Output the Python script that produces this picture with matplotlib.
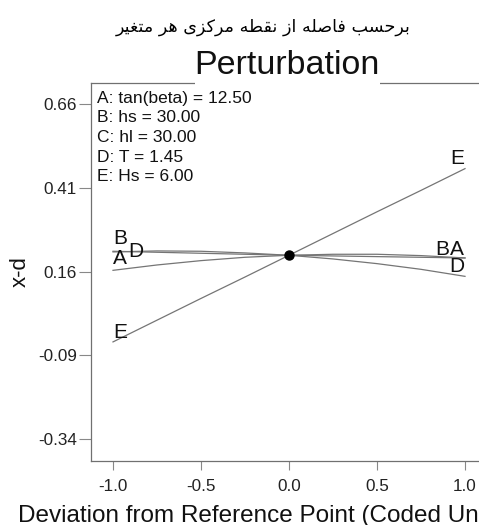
import numpy as np
import matplotlib
matplotlib.use('Agg')
import matplotlib.pyplot as plt
from matplotlib.patches import Rectangle

W, H = 479, 525

# deviation from reference point (coded units)
dev = [-1.0, -0.75, -0.5, -0.25, 0.0, 0.25, 0.5, 0.75, 1.0]
curve_A = [0.164, 0.180, 0.193, 0.203, 0.209, 0.212, 0.212, 0.208, 0.201]
curve_B = [0.221, 0.218, 0.215, 0.212, 0.209, 0.207, 0.205, 0.203, 0.201]
curve_D = [0.219, 0.222, 0.221, 0.216, 0.209, 0.198, 0.184, 0.167, 0.146]
curve_E = [-0.050, 0.015, 0.080, 0.144, 0.209, 0.274, 0.339, 0.403, 0.468]
center = (0.0, 0.209)

factor_info = ['A: tan(beta) = 12.50', 'B: hs = 30.00', 'C: hl = 30.00',
               'D: T = 1.45', 'E: Hs = 6.00']
yticks = [-0.34, -0.09, 0.16, 0.41, 0.66]
xticks = [-1.0, -0.5, 0.0, 0.5, 1.0]

persian_title = 'برحسب فاصله از نقطه مرکزی هر متغیر'

# matplotlib has no arabic shaping, so pick presentation forms by hand
forms = {
    'ا': ('\uFE8D', '\uFE8E', None, None),
    'ب': ('\uFE8F', '\uFE90', '\uFE91', '\uFE92'),
    'ت': ('\uFE95', '\uFE96', '\uFE97', '\uFE98'),
    'ح': ('\uFEA1', '\uFEA2', '\uFEA3', '\uFEA4'),
    'ر': ('\uFEAD', '\uFEAE', None, None),
    'ز': ('\uFEAF', '\uFEB0', None, None),
    'س': ('\uFEB1', '\uFEB2', '\uFEB3', '\uFEB4'),
    'ص': ('\uFEB9', '\uFEBA', '\uFEBB', '\uFEBC'),
    'ط': ('\uFEC1', '\uFEC2', '\uFEC3', '\uFEC4'),
    'غ': ('\uFECD', '\uFECE', '\uFECF', '\uFED0'),
    'ف': ('\uFED1', '\uFED2', '\uFED3', '\uFED4'),
    'ق': ('\uFED5', '\uFED6', '\uFED7', '\uFED8'),
    'ل': ('\uFEDD', '\uFEDE', '\uFEDF', '\uFEE0'),
    'م': ('\uFEE1', '\uFEE2', '\uFEE3', '\uFEE4'),
    'ن': ('\uFEE5', '\uFEE6', '\uFEE7', '\uFEE8'),
    'ه': ('\uFEE9', '\uFEEA', '\uFEEB', '\uFEEC'),
    'ک': ('\uFB8E', '\uFB8F', '\uFB90', '\uFB91'),
    'ی': ('\uFBFC', '\uFBFD', '\uFBFE', '\uFBFF'),
}


def shape(s):
    out = []
    for i, c in enumerate(s):
        if c not in forms:
            out.append(c)
            continue
        prev = s[i - 1] if i > 0 else ' '
        nxt = s[i + 1] if i < len(s) - 1 else ' '
        j_prev = prev in forms and forms[prev][2] is not None
        j_next = forms[c][2] is not None and nxt in forms
        if j_prev and j_next:
            out.append(forms[c][3])
        elif j_prev:
            out.append(forms[c][1])
        elif j_next:
            out.append(forms[c][2])
        else:
            out.append(forms[c][0])
    return ''.join(out)[::-1]


def px(x, y):
    return x / W, 1 - y / H


plt.rcParams['font.family'] = ['Liberation Sans', 'DejaVu Sans']

fig = plt.figure(figsize=(W / 100, H / 100), dpi=100)
left, right, top, bottom = 91, 487, 83, 461
ax = fig.add_axes([left / W, 1 - bottom / H, (right - left) / W, (bottom - top) / H])

line_col = '#757575'
for ys in [curve_A, curve_B, curve_D, curve_E]:
    ax.plot(dev, ys, color=line_col, lw=0.9)
ax.plot(*center, 'o', color='black', ms=6.5, zorder=5)

ax.set_xlim(-1.125, 1.125)
ax.set_ylim(-0.406, 0.724)
ax.set_xticks(xticks)
ax.set_xticklabels(['%.1f' % t for t in xticks])
ax.set_yticks(yticks)
ax.set_yticklabels(['%.2f' % t for t in yticks])
ax.tick_params(axis='y', length=8.5, width=0.8, color='#888888', pad=1.5,
               labelsize=12.3, labelcolor='#222222')
ax.tick_params(axis='x', length=6.5, width=0.8, color='#888888', pad=6.5,
               labelsize=12.3, labelcolor='#222222')
for sp in ax.spines.values():
    sp.set_color('#707070')
    sp.set_linewidth(0.9)

# curve letters at the line ends
lab = dict(textcoords='offset pixels', fontsize=15, color='#111111', va='baseline')
ax.annotate('B', (dev[0], curve_B[0]), xytext=(0, 7), ha='left', **lab)
ax.annotate('D', (dev[0], curve_D[0]), xytext=(15, -5), ha='left', **lab)
ax.annotate('A', (dev[0], curve_A[0]), xytext=(0, 6), ha='left', **lab)
ax.annotate('E', (dev[0], curve_E[0]), xytext=(0, 4), ha='left', **lab)
ax.annotate('B', (dev[-1], curve_B[-1]), xytext=(-16, 3), ha='right', **lab)
ax.annotate('A', (dev[-1], curve_A[-1]), xytext=(-1, 3), ha='right', **lab)
ax.annotate('D', (dev[-1], curve_D[-1]), xytext=(-1, 4), ha='right', **lab)
ax.annotate('E', (dev[-1], curve_E[-1]), xytext=(-1, 5), ha='right', **lab)

for i, s in enumerate(factor_info):
    fig.text(*px(97, 98 + 19.7 * i), s, fontsize=12.5, color='#111111',
             ha='left', va='center')

# title sits on a white box that hides the top spine
fig.patches.append(Rectangle(px(195, 87), 185 / W, 40 / H, transform=fig.transFigure,
                             facecolor='white', edgecolor='none', zorder=1))
fig.text(*px(287, 74), 'Perturbation', fontsize=24.5, ha='center', va='baseline',
         color='#111111', zorder=2)
fig.text(*px(263, 32), shape(persian_title), fontsize=12.6, ha='center',
         va='baseline', family=['DejaVu Sans'], color='black')

fig.text(*px(20, 272), 'x-d', fontsize=16, rotation=90, ha='center', va='center',
         color='#111111')
fig.text(*px(18, 522), 'Deviation from Reference Point (Coded Units)', fontsize=17.5,
         ha='left', va='baseline', color='#111111')

fig.savefig('out.png', dpi=100)
